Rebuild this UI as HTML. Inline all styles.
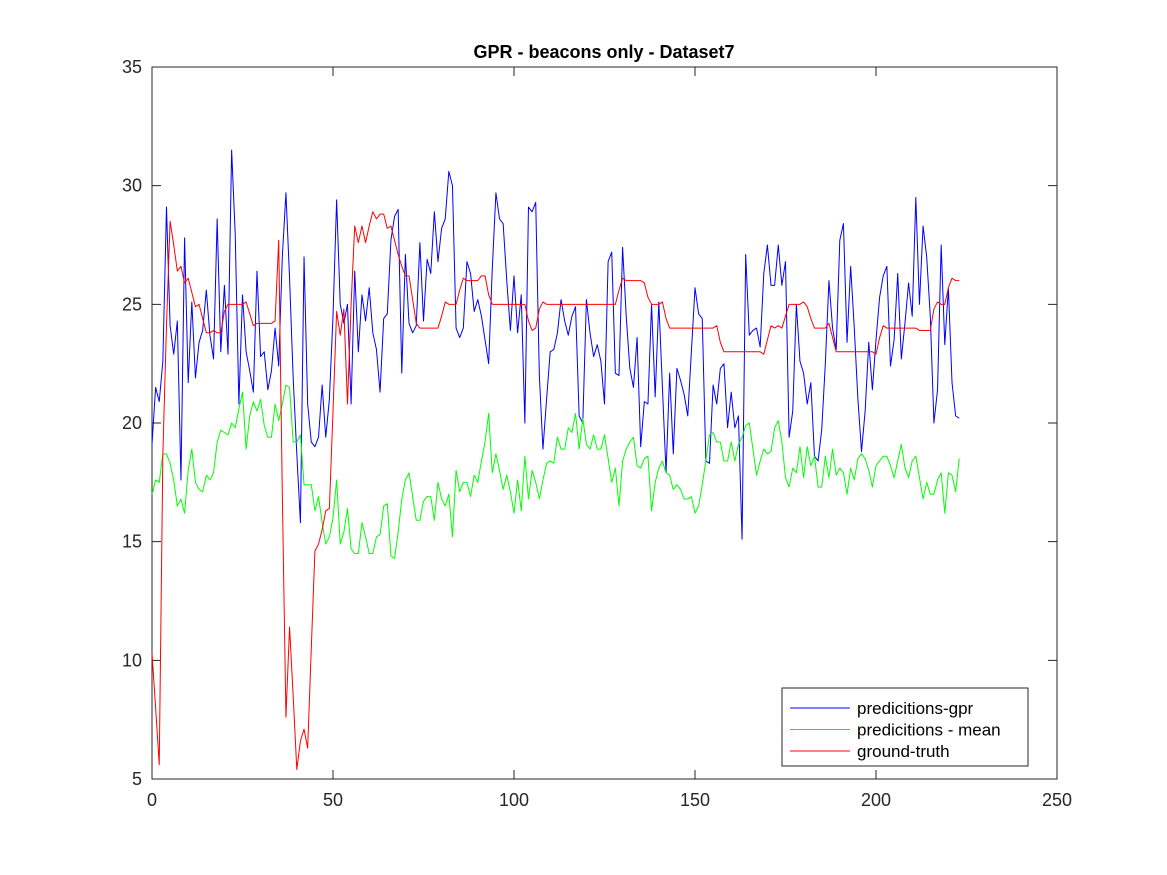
<!DOCTYPE html>
<html><head><meta charset="utf-8"><style>
html,body{margin:0;padding:0;background:#fff;}
svg{display:block;font-family:"Liberation Sans",Arial,sans-serif;}
</style></head><body>
<svg id="chart" width="1167" height="875" viewBox="0 0 1167 875" xmlns="http://www.w3.org/2000/svg">
<rect x="0" y="0" width="1167" height="875" fill="#fff"/>
<text x="604" y="58" text-anchor="middle" font-size="18" font-weight="bold" fill="#000">GPR - beacons only - Dataset7</text>
<g id="plot"></g>
</svg>
<script>
const xTicks = [0, 50, 100, 150, 200, 250];
const yTicks = [5, 10, 15, 20, 25, 30, 35];
const gpr = [19.1,21.5,20.9,22.6,29.1,24.1,22.9,24.3,17.6,27.8,21.7,25.1,21.9,23.4,23.9,25.6,23.7,22.7,28.6,23.0,25.8,22.9,31.5,27.9,20.8,25.4,23.0,22.2,21.3,26.4,22.8,23.0,21.4,22.2,24.0,22.4,27.0,29.7,26.1,21.9,18.7,15.8,27.0,20.8,19.2,19.0,
19.4,21.6,19.4,21.0,24.5,29.4,25.0,24.2,25.0,20.8,26.4,23.0,25.4,24.3,25.7,23.8,23.1,21.3,24.4,24.6,27.7,28.7,29.0,22.1,27.1,24.2,23.8,24.1,27.6,24.3,26.9,26.3,28.9,26.8,28.2,28.6,30.6,30.0,24.0,23.6,24.0,26.8,26.3,24.7,
25.2,24.5,23.5,22.5,26.5,29.7,28.6,28.4,26.0,23.9,26.2,23.8,25.4,20.0,29.1,28.9,29.3,22.0,18.9,21.0,23.0,23.1,23.8,25.2,24.3,23.7,24.5,24.9,20.3,20.0,25.2,23.8,22.8,23.3,22.6,20.8,26.8,27.2,22.1,22.0,27.4,24.5,22.3,21.5,
23.6,19.0,20.9,20.8,25.0,21.1,25.1,21.5,17.9,22.1,18.7,22.3,21.8,21.2,20.3,23.0,25.7,24.6,24.4,18.4,18.3,21.6,20.8,22.3,22.5,19.8,21.3,19.8,20.3,15.1,27.1,23.7,23.9,24.0,23.2,26.3,27.5,25.8,25.8,27.5,25.8,26.8,19.4,20.5,25.0,22.6,22.1,20.8,
21.7,18.6,18.4,19.7,22.5,26.0,24.0,23.1,27.7,28.4,23.4,26.6,24.0,21.0,18.8,20.5,23.4,21.4,23.5,25.3,26.2,26.6,22.4,23.5,26.3,22.7,24.2,25.9,24.5,29.5,25.0,28.3,27.0,24.5,20.0,21.4,27.5,23.3,25.7,21.7,20.3,20.2];
const meanPred = [17.0,17.6,17.5,18.7,18.7,18.3,17.6,16.5,16.8,16.2,18.0,18.9,17.5,17.2,17.1,17.8,17.6,17.9,19.2,19.7,19.6,19.5,20.0,19.8,20.6,21.3,18.9,20.3,20.9,20.5,21.0,19.9,19.4,19.4,20.8,20.1,20.8,21.6,21.5,19.2,19.2,19.5,17.4,17.4,17.4,16.3,16.9,
15.8,14.9,15.2,16.0,17.6,14.9,15.4,16.4,14.7,14.5,14.5,15.8,15.2,14.5,14.5,15.2,15.3,16.5,16.6,14.4,14.3,15.4,16.8,17.6,17.9,16.9,15.9,15.9,16.7,16.9,16.9,15.9,17.5,16.8,16.5,17.0,15.2,18.0,17.1,17.5,17.5,16.9,17.8,
17.5,18.4,19.2,20.4,17.9,18.7,18.0,17.2,17.8,17.1,16.2,17.6,16.3,18.6,16.8,18.0,17.5,16.8,17.6,18.3,18.4,18.3,19.4,18.9,18.9,19.8,19.6,20.4,18.9,20.2,19.1,18.9,19.5,18.9,18.9,19.5,18.5,17.5,18.1,16.5,18.4,18.9,19.2,19.4,18.2,18.1,18.5,
18.6,16.3,17.5,18.1,18.4,17.9,17.8,17.2,17.4,17.2,16.8,16.8,16.9,16.2,16.5,17.4,18.4,19.5,19.6,19.2,19.2,18.4,18.4,19.2,18.4,19.1,19.4,19.9,20.0,18.9,17.8,18.4,18.9,18.7,18.8,19.8,20.1,19.2,17.7,17.3,18.1,17.9,19.0,17.7,
19.0,18.2,18.6,17.3,17.3,18.6,17.7,18.9,17.8,18.1,17.9,17.0,18.1,17.6,18.5,18.7,18.5,18.0,17.3,18.2,18.4,18.6,18.6,18.2,17.7,18.4,19.1,18.1,17.7,18.4,18.6,17.7,16.8,17.5,17.0,17.0,17.6,17.9,16.2,17.9,17.8,17.1,18.5];
const truth = [10.3,8.0,5.6,18.7,24.1,28.5,27.5,26.4,26.6,25.9,26.1,25.5,24.9,25.0,24.4,23.8,23.8,23.9,23.8,23.8,24.7,25.0,25.0,25.0,25.0,25.0,25.1,24.6,24.1,24.2,24.2,24.2,24.2,24.2,24.3,27.7,17.0,7.6,11.4,8.5,5.4,6.6,7.1,6.3,10.5,14.6,14.9,
15.5,16.3,16.4,20.5,24.7,23.7,24.8,20.8,25.0,28.3,27.6,28.3,27.6,28.3,28.9,28.6,28.8,28.8,28.2,28.3,27.7,27.1,26.6,26.2,26.2,25.2,24.2,24.0,24.0,24.0,24.0,24.0,24.0,24.5,25.1,25.0,25.0,25.0,25.6,26.1,26.0,26.0,26.0,26.0,
26.2,26.2,25.4,25.0,25.0,25.0,25.0,25.0,25.0,25.0,25.0,25.0,25.0,24.3,23.9,24.0,24.8,25.1,25.0,25.0,25.0,25.0,25.0,25.0,25.0,25.0,25.0,25.0,25.0,25.0,25.0,25.0,25.0,25.0,25.0,25.0,25.0,25.0,25.6,26.1,26.0,26.0,26.0,26.0,26.0,25.9,
25.3,25.0,25.0,25.0,25.1,24.4,24.0,24.0,24.0,24.0,24.0,24.0,24.0,24.0,24.0,24.0,24.0,24.0,24.0,24.1,23.4,23.0,23.0,23.0,23.0,23.0,23.0,23.0,23.0,23.0,23.0,23.0,22.9,23.5,24.1,24.0,24.1,24.0,24.5,25.0,25.0,25.0,25.0,25.1,24.9,24.4,
24.0,24.0,24.0,24.0,24.2,23.6,23.0,23.0,23.0,23.0,23.0,23.0,23.0,23.0,23.0,23.0,23.0,22.9,23.6,24.1,24.0,24.0,24.0,24.0,24.0,24.0,24.0,24.0,24.0,23.9,23.9,23.9,23.9,24.8,25.1,25.0,25.0,25.7,26.1,26.0,26.0];
const legendLabels = ["predicitions-gpr", "predicitions - mean", "ground-truth"];

const NS = "http://www.w3.org/2000/svg";
const L = 152, R = 1057, T = 67, B = 779;
const xMin = 0, xMax = 250, yMin = 5, yMax = 35;
function xs(v){ return L + (v - xMin) / (xMax - xMin) * (R - L); }
function ys(v){ return B - (v - yMin) / (yMax - yMin) * (B - T); }
function mk(tag, attrs){ const e = document.createElementNS(NS, tag); for (const k in attrs) e.setAttribute(k, attrs[k]); return e; }
const g = document.getElementById("plot");

const box = mk("rect", {x:L, y:T, width:R-L, height:B-T, fill:"none", stroke:"#262626", "stroke-width":1});


g.appendChild(box);

xTicks.forEach(t => {
  const x = xs(t);
  const tk = mk("path", {d:`M${x},${B}V${B-9}M${x},${T}V${T+9}`, stroke:"#262626", "stroke-width":1});
  
  
  g.appendChild(tk);
  const lb = mk("text", {x:x, y:B+27, "text-anchor":"middle", "font-size":18, fill:"#262626"});
  lb.textContent = t;
  
  
  g.appendChild(lb);
});
yTicks.forEach(t => {
  const y = ys(t);
  const tk = mk("path", {d:`M${L},${y}H${L+9}M${R},${y}H${R-9}`, stroke:"#262626", "stroke-width":1});
  
  
  g.appendChild(tk);
  const lb = mk("text", {x:L-10, y:y+6, "text-anchor":"end", "font-size":18, fill:"#262626"});
  lb.textContent = t;
  
  
  g.appendChild(lb);
});

function line(data, color, name){
  const pts = data.map((v,i) => xs(i).toFixed(2) + "," + ys(v).toFixed(2)).join(" ");
  const pl = mk("polyline", {points:pts, fill:"none", stroke:color, "stroke-width":1, "stroke-linejoin":"round"});
  
  
  g.appendChild(pl);
}
line(gpr, "#0000ff", "series-predictions-gpr");
line(meanPred, "#00ff00", "series-predictions-mean");
line(truth, "#ff0000", "series-ground-truth");

const lg = mk("g", {});


g.appendChild(lg);
const lbox = mk("rect", {x:782, y:688, width:246, height:78, fill:"#fff", stroke:"#262626", "stroke-width":1});


lg.appendChild(lbox);
const colors = ["#0000ff", "#00ff00", "#ff0000"];
legendLabels.forEach((s,i) => {
  const y = 708 + i*21.5;
  const ln = mk("line", {x1:790, x2:850, y1:y, y2:y, stroke:colors[i], "stroke-width":1});
  
  
  lg.appendChild(ln);
  const tx = mk("text", {x:857, y:y+6, "font-size":17, fill:"#000"});
  tx.textContent = s;
  
  
  lg.appendChild(tx);
});
</script>
</body></html>
